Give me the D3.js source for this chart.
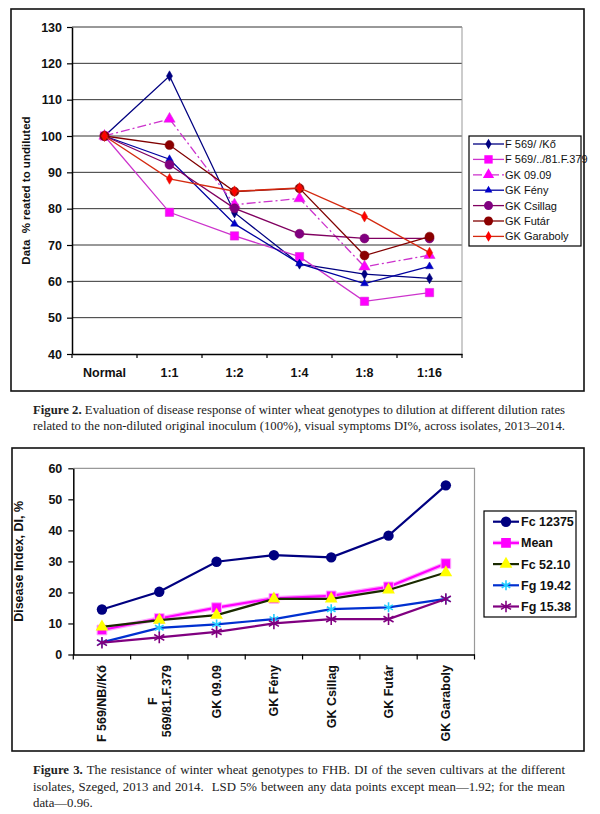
<!DOCTYPE html>
<html>
<head>
<meta charset="utf-8">
<script src="https://cdn.jsdelivr.net/npm/d3@7"></script>
<style>
  body { margin: 0; background: #fff; }
  svg { display: block; }
</style>
</head>
<body>
<svg id="fig"></svg>
<script>
// ---- Figure 2: response to dilution ----
const dilutions = ['Normal', '1:1', '1:2', '1:4', '1:8', '1:16'];
const genotypes = ['F 569/ /Kő', 'F 569/../81.F.379', 'GK 09.09', 'GK Fény', 'GK Csillag', 'GK Futár', 'GK Garaboly'];
const f569Ko     = [100, 116.5, 78.9, 64.8, 62.0, 60.8];
const f569F379   = [100, 79.0, 72.5, 66.8, 54.5, 56.9];
const gk0909     = [100, 104.7, 81.1, 82.8, 64.0, 67.2];
const gkFeny     = [100, 93.6, 75.8, 64.9, 59.4, 64.1];
const gkCsillag  = [100, 92.1, 80.1, 73.1, 71.8, 71.8];
const gkFutar    = [100, 97.5, 84.7, 85.6, 67.1, 72.3];
const gkGaraboly = [100, 88.2, 84.8, 85.7, 77.8, 67.9];
const yTicks1 = [40, 50, 60, 70, 80, 90, 100, 110, 120, 130];

// ---- Figure 3: resistance to FHB ----
const cultivars = ['F 569/NB//Kő', 'F\n569/81.F.379', 'GK 09.09', 'GK Fény', 'GK Csillag', 'GK Futár', 'GK Garaboly'];
const isolates = ['Fc 12375', 'Mean', 'Fc 52.10', 'Fg 19.42', 'Fg 15.38'];
const fc12375 = [14.5, 20.2, 29.9, 32.0, 31.3, 38.3, 54.5];
const meanDI  = [7.9, 11.6, 15.1, 18.1, 18.9, 21.8, 29.3];
const fc5210  = [8.9, 11.1, 12.7, 17.9, 17.9, 20.8, 26.4];
const fg1942  = [3.9, 8.6, 9.7, 11.4, 14.6, 15.2, 17.9];
const fg1538  = [3.8, 5.5, 7.3, 10.0, 11.4, 11.4, 17.9];
const yTicks2 = [0, 10, 20, 30, 40, 50, 60];

const caption2 = [
  ['Figure 2.', ' Evaluation of disease response of winter wheat genotypes to dilution at different dilution rates'],
  ['', 'related to the non-diluted original inoculum (100%), visual symptoms DI%, across isolates, 2013–2014.']
];
const caption3 = [
  ['Figure 3.', ' The resistance of winter wheat genotypes to FHB. DI of the seven cultivars at the different'],
  ['', 'isolates, Szeged, 2013 and 2014.  LSD 5% between any data points except mean—1.92; for the mean'],
  ['', 'data—0.96.']
];

const W = 600, H = 814;
const sans = '"Liberation Sans", Arial, sans-serif';
const serif = '"Liberation Serif", "Times New Roman", serif';

const svg = d3.select('#fig').attr('width', W).attr('height', H);

// ================= Figure 2 =================
const styles1 = [
  { color: '#000080', line: '#000080', symbol: d3.symbolDiamond, size: 32, dash: null },
  { color: '#FF00FF', line: '#CC33CC', symbol: d3.symbolSquare, size: 70, dash: null },
  { color: '#FF00FF', line: '#CC33CC', symbol: d3.symbolTriangle, size: 55, dash: '9,3,2,3' },
  { color: '#0000CC', line: '#0000A0', symbol: d3.symbolTriangle, size: 26, dash: null },
  { color: '#800080', line: '#800060', symbol: d3.symbolCircle, size: 64, dash: null },
  { color: '#8B0000', line: '#800000', symbol: d3.symbolCircle, size: 64, dash: null },
  { color: '#FF0000', line: '#D42A10', symbol: d3.symbolDiamond, size: 34, dash: null }
];
const values1 = [f569Ko, f569F379, gk0909, gkFeny, gkCsillag, gkFutar, gkGaraboly];

const g1 = svg.append('g');
g1.append('rect')
  .attr('x', 11).attr('y', 9).attr('width', 573).attr('height', 382)
  .attr('fill', 'none').attr('stroke', '#111').attr('stroke-width', 1.6);

const x1 = d3.scaleBand().domain(dilutions).range([72, 462]);
const y1 = d3.scaleLinear().domain([40, 130]).range([354, 27]);

// gridlines
g1.append('g').selectAll('line')
  .data(yTicks1.filter(d => d > 40))
  .join('line')
    .attr('x1', 72).attr('x2', 462)
    .attr('y1', d => y1(d)).attr('y2', d => y1(d))
    .attr('stroke', '#333').attr('stroke-width', 1);

// plot area right border
g1.append('line')
  .attr('x1', 462).attr('x2', 462).attr('y1', y1(130)).attr('y2', y1(40))
  .attr('stroke', '#999').attr('stroke-width', 1);

// y axis
const ay1 = g1.append('g')
  .attr('transform', 'translate(72,0)')
  .call(d3.axisLeft(y1).tickValues(yTicks1).tickSize(5).tickSizeOuter(0).tickPadding(5));
ay1.select('.domain').attr('stroke', '#000').attr('stroke-width', 1.5);
ay1.selectAll('.tick line').attr('stroke', '#000').attr('stroke-width', 1.2);
ay1.selectAll('text').attr('font-family', sans).attr('font-size', 12.5).attr('font-weight', 'bold').attr('fill', '#111');

// x axis: labels centred, ticks at category boundaries
const ax1 = g1.append('g')
  .attr('transform', `translate(0,${y1(40)})`)
  .call(d3.axisBottom(x1).tickSize(0).tickSizeOuter(0).tickPadding(14));
ax1.select('.domain').attr('stroke', '#000').attr('stroke-width', 1.5);
ax1.selectAll('text').attr('font-family', sans).attr('font-size', 12.5).attr('font-weight', 'bold').attr('fill', '#111');
g1.append('g').selectAll('line')
  .data(dilutions.map(d => x1(d)).concat([x1.range()[1]]))
  .join('line')
    .attr('x1', d => d).attr('x2', d => d)
    .attr('y1', y1(40)).attr('y2', y1(40) + 4)
    .attr('stroke', '#000').attr('stroke-width', 1.2);

// y title
g1.append('text')
  .attr('transform', `translate(30,${(y1(40) + y1(130)) / 2}) rotate(-90)`)
  .attr('text-anchor', 'middle')
  .attr('font-family', sans).attr('font-size', 11.5).attr('font-weight', 'bold').attr('fill', '#111')
  .text('Data  % reated to undiluted')
  .style('white-space', 'pre');

// lines + markers
const line1 = d3.line()
  .x((d, i) => x1(dilutions[i]) + x1.bandwidth() / 2)
  .y(d => y1(d));

values1.forEach((vals, k) => {
  const s = styles1[k];
  g1.append('path')
    .datum(vals)
    .attr('d', line1)
    .attr('fill', 'none')
    .attr('stroke', s.line)
    .attr('stroke-width', 1.3)
    .attr('stroke-dasharray', s.dash);
  g1.append('g').selectAll('path')
    .data(vals)
    .join('path')
      .attr('transform', (d, i) => `translate(${x1(dilutions[i]) + x1.bandwidth() / 2},${y1(d)})`)
      .attr('d', d3.symbol().type(s.symbol).size(s.size))
      .attr('fill', s.color)
      .attr('stroke', s.line)
      .attr('stroke-width', 0.5);
});

// legend
const leg1 = g1.append('g').attr('transform', 'translate(469,136)');
leg1.append('rect')
  .attr('width', 112).attr('height', 110)
  .attr('fill', '#fff').attr('stroke', '#000').attr('stroke-width', 1.2);
genotypes.forEach((name, i) => {
  const s = styles1[i];
  const item = leg1.append('g').attr('transform', `translate(0,${8 + i * 15.4})`);
  item.append('line')
    .attr('x1', 4).attr('x2', 35)
    .attr('stroke', s.line).attr('stroke-width', 1.3)
    .attr('stroke-dasharray', s.dash);
  item.append('path')
    .attr('transform', 'translate(19.5,0)')
    .attr('d', d3.symbol().type(s.symbol).size(s.size))
    .attr('fill', s.color);
  item.append('text')
    .attr('x', 36).attr('dy', '0.36em')
    .attr('font-family', sans).attr('font-size', 11).attr('fill', '#111')
    .text(name);
});

// ================= Figure 3 =================
const styles2 = [
  { color: '#000080', line: '#000080', symbol: d3.symbolCircle, size: 85, stroke: false },
  { color: '#FF00FF', line: '#FF00FF', symbol: d3.symbolSquare, size: 95, stroke: false, halo: '#FFA8FF' },
  { color: '#FFFF00', line: '#1A2A00', symbol: d3.symbolTriangle, size: 70, stroke: false },
  { color: '#22CCFF', line: '#0030D0', symbol: d3.symbolAsterisk, size: 70, stroke: true },
  { color: '#800080', line: '#800080', symbol: d3.symbolAsterisk, size: 95, stroke: true }
];
const values2 = [fc12375, meanDI, fc5210, fg1942, fg1538];

const g2 = svg.append('g');
g2.append('rect')
  .attr('x', 12).attr('y', 448).attr('width', 572).attr('height', 303)
  .attr('fill', 'none').attr('stroke', '#111').attr('stroke-width', 1.6);

const x2 = d3.scaleBand().domain(cultivars).range([73.3, 474.5]);
const y2 = d3.scaleLinear().domain([0, 60]).range([654.5, 468.3]);

// plot area frame (top and right)
g2.append('path')
  .attr('d', `M${x2.range()[0]},${y2(60)}H${x2.range()[1]}V${y2(0)}`)
  .attr('fill', 'none').attr('stroke', '#999').attr('stroke-width', 1.2);

const ay2 = g2.append('g')
  .attr('transform', `translate(${x2.range()[0]},0)`)
  .call(d3.axisLeft(y2).tickValues(yTicks2).tickSize(5).tickSizeOuter(0).tickPadding(6));
ay2.select('.domain').attr('stroke', '#000').attr('stroke-width', 1.5);
ay2.selectAll('.tick line').attr('stroke', '#000').attr('stroke-width', 1.2);
ay2.selectAll('text').attr('font-family', sans).attr('font-size', 12.5).attr('font-weight', 'bold').attr('fill', '#111');

const ax2 = g2.append('g')
  .attr('transform', `translate(0,${y2(0)})`)
  .call(d3.axisBottom(x2).tickSize(0).tickSizeOuter(0).tickFormat(''));
ax2.select('.domain').attr('stroke', '#000').attr('stroke-width', 1.5);
g2.append('g').selectAll('line')
  .data(cultivars.map(d => x2(d)).concat([x2.range()[1]]))
  .join('line')
    .attr('x1', d => d).attr('x2', d => d)
    .attr('y1', y2(0)).attr('y2', y2(0) + 5)
    .attr('stroke', '#000').attr('stroke-width', 1.2);

// rotated category labels
const labTop = y2(0) + 10.5;
cultivars.forEach(c => {
  const lines = c.split('\n');
  const cx = x2(c) + x2.bandwidth() / 2;
  const t = g2.append('g').attr('transform', `translate(${cx},${labTop}) rotate(-90)`);
  const texts = lines.map((ln, i) => t.append('text')
    .attr('dy', (i - (lines.length - 1) / 2) * 14 + 4.3)
    .attr('font-family', sans).attr('font-size', 12.5).attr('font-weight', 'bold').attr('fill', '#111')
    .text(ln));
  const maxLen = d3.max(texts, tx => tx.node().getComputedTextLength());
  texts.forEach(tx => tx.attr('text-anchor', 'middle').attr('x', -maxLen / 2));
});

g2.append('text')
  .attr('transform', `translate(23,${(y2(0) + y2(60)) / 2}) rotate(-90)`)
  .attr('text-anchor', 'middle')
  .attr('font-family', sans).attr('font-size', 12.5).attr('font-weight', 'bold').attr('fill', '#111')
  .text('Disease Index, DI, %');

const line2 = d3.line()
  .x((d, i) => x2(cultivars[i]) + x2.bandwidth() / 2)
  .y(d => y2(d));

values2.forEach((vals, k) => {
  const s = styles2[k];
  if (s.halo) {
    g2.append('path').datum(vals).attr('d', line2)
      .attr('fill', 'none').attr('stroke', s.halo).attr('stroke-width', 4.5);
  }
  g2.append('path').datum(vals).attr('d', line2)
    .attr('fill', 'none').attr('stroke', s.line).attr('stroke-width', 2.2);
  g2.append('g').selectAll('path')
    .data(vals)
    .join('path')
      .attr('transform', (d, i) => `translate(${x2(cultivars[i]) + x2.bandwidth() / 2},${y2(d)})`)
      .attr('d', d3.symbol().type(s.symbol).size(s.size))
      .attr('fill', s.stroke ? 'none' : s.color)
      .attr('stroke', s.stroke ? s.color : (s.halo || 'none'))
      .attr('stroke-width', s.stroke ? 1.6 : 1);
});

// legend
const leg2 = g2.append('g').attr('transform', 'translate(484,511)');
leg2.append('rect')
  .attr('width', 92).attr('height', 106)
  .attr('fill', '#fff').attr('stroke', '#000').attr('stroke-width', 1.2);
isolates.forEach((name, i) => {
  const s = styles2[i];
  const item = leg2.append('g').attr('transform', `translate(0,${10.7 + i * 21.2})`);
  if (s.halo) {
    item.append('line').attr('x1', 9).attr('x2', 35)
      .attr('stroke', s.halo).attr('stroke-width', 4.5);
  }
  item.append('line').attr('x1', 9).attr('x2', 35)
    .attr('stroke', s.line).attr('stroke-width', 2.2);
  item.append('path')
    .attr('transform', 'translate(22,0)')
    .attr('d', d3.symbol().type(s.symbol).size(s.size))
    .attr('fill', s.stroke ? 'none' : s.color)
    .attr('stroke', s.stroke ? s.color : 'none')
    .attr('stroke-width', 1.6);
  item.append('text')
    .attr('x', 37).attr('dy', '0.36em')
    .attr('font-family', sans).attr('font-size', 12.5).attr('font-weight', 'bold').attr('fill', '#111')
    .text(name);
});

// ================= captions =================
// font size chosen so the longest line fits the column, then lines are justified
function caption(lines, x0, xr, y0, lh) {
  const target = xr - x0;
  const base = 12;
  const make = (parts, fs, y) => {
    const t = svg.append('text')
      .attr('x', x0).attr('y', y)
      .attr('font-family', serif).attr('font-size', fs).attr('fill', '#222')
      .style('white-space', 'pre');
    if (parts[0]) t.append('tspan').attr('font-weight', 'bold').text(parts[0]);
    t.append('tspan').text(parts[1]);
    return t;
  };
  // measure
  let maxLen = 0;
  lines.forEach(parts => {
    const t = make(parts, base, -100);
    maxLen = Math.max(maxLen, t.node().getComputedTextLength());
    t.remove();
  });
  const fs = Math.min(12.8, base * target / maxLen);
  lines.forEach((parts, i) => {
    const t = make(parts, fs, y0 + i * lh);
    const len = t.node().getComputedTextLength();
    if (len > target * 0.85) {
      const gaps = (parts[0] + parts[1]).split(' ').length - 1;
      t.attr('word-spacing', (target - len) / gaps);
    }
  });
}
caption(caption2, 33, 565, 414, 15.8);
caption(caption3, 33, 565, 774, 16.6);
</script>
</body>
</html>
